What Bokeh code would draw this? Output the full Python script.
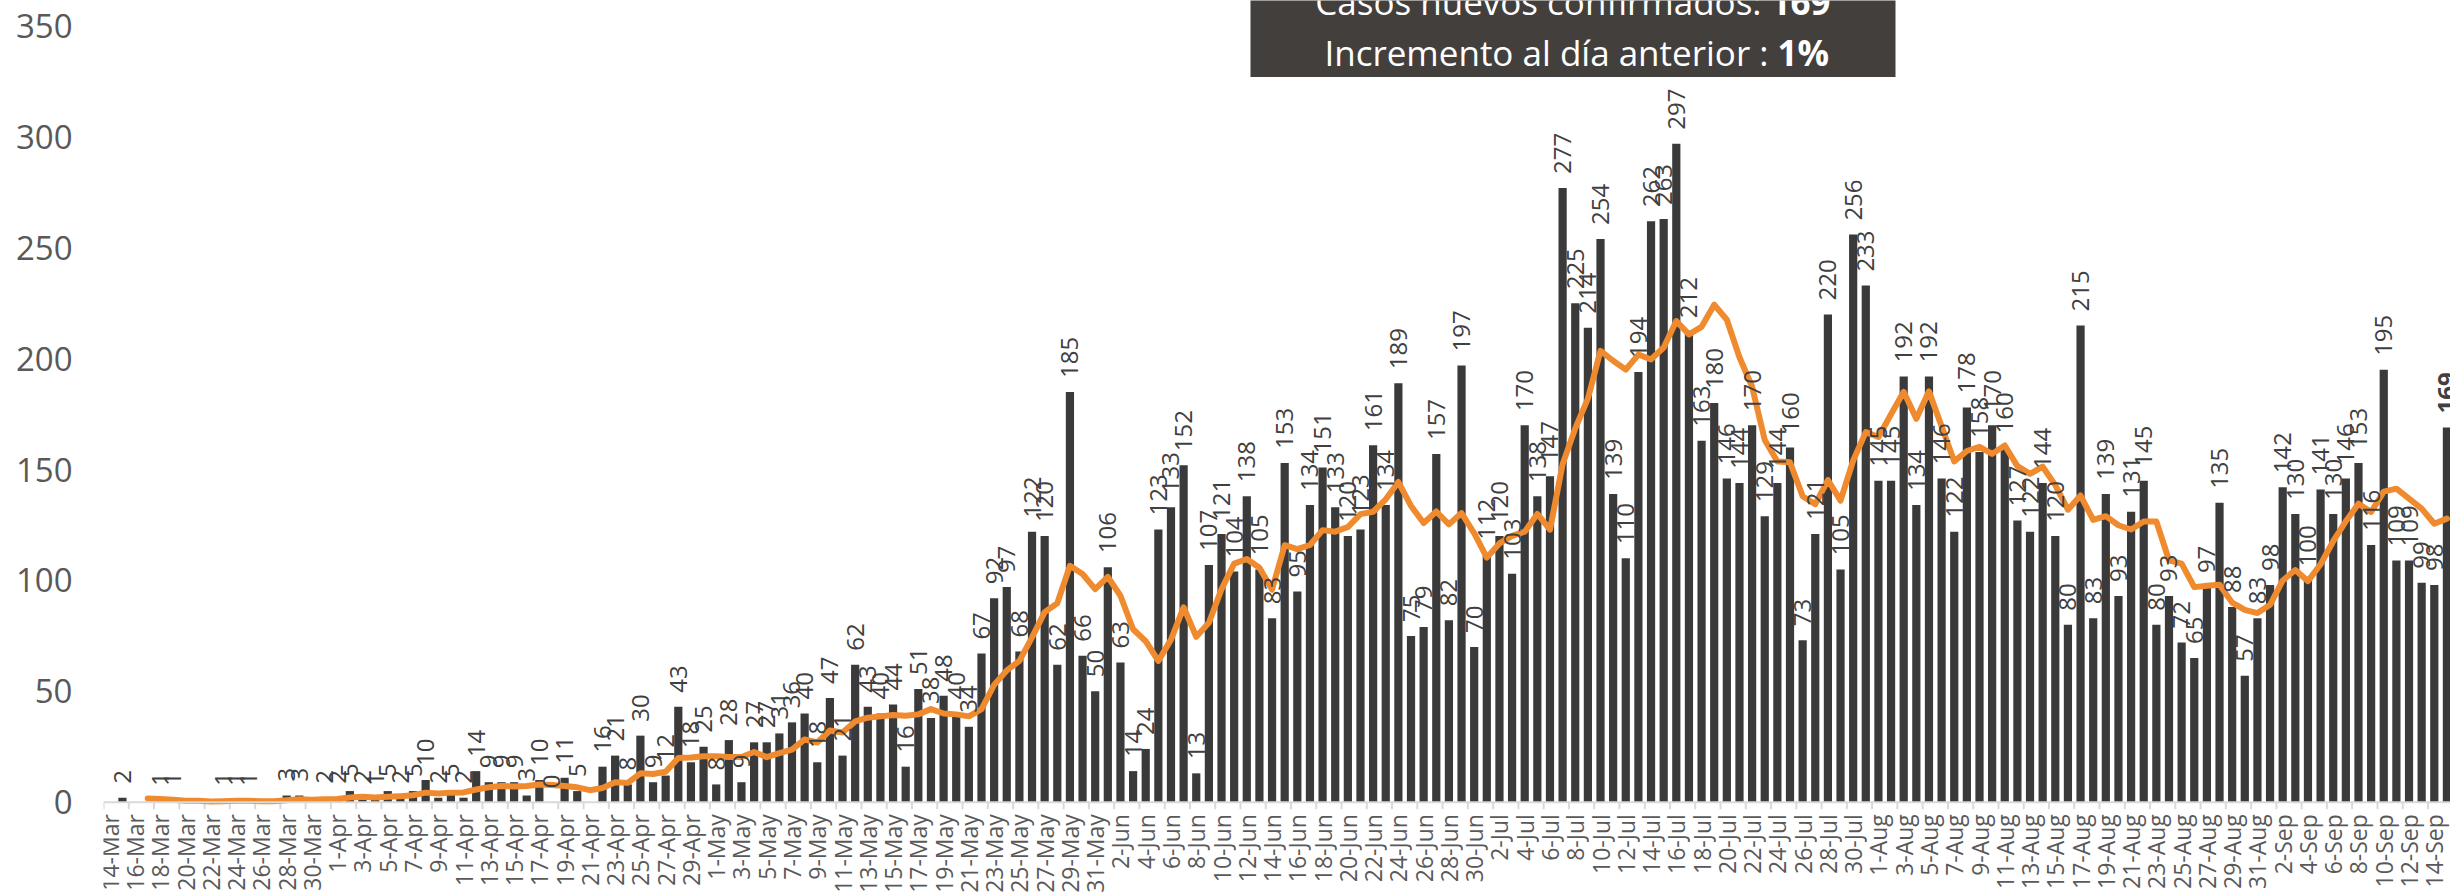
import math
import pandas as pd
from bokeh.plotting import figure
from bokeh.models import (ColumnDataSource, Range1d, LinearAxis, FixedTicker,
                          Label, BoxAnnotation, Span)
from bokeh.core.properties import value
from bokeh.embed import file_html
from bokeh.resources import INLINE

# ---------------- data ----------------
fecha_inicio = "2020-03-14"
n_dias = 186
meses = {3: "Mar", 4: "Apr", 5: "May", 6: "Jun", 7: "Jul", 8: "Aug", 9: "Sep"}
fechas = pd.date_range(fecha_inicio, periods=n_dias)
categorias = [f"{d.day}-{meses[d.month]}" for d in fechas]

# daily new confirmed cases (None = no data / no label)
casos_nuevos = [
    None, 2, None, None, 1, 1, None, None, None, 1, 1, 1, None, None,
    3, 3, None,
    2, 2, 5, 2, 1, 5, 2, 5, 10, 2, 5, 2,
    14, 9, 9, 9, 3, 10, 0, 11, 5,
    None,
    16, 21, 8, 30, 9, 12, 43, 18, 25,
    8, 28, 9, 27, 27, 31, 36, 40, 18, 47, 21, 62, 43, 40, 44, 16, 51, 38, 48, 40,
    34, 67, 92, 97, 68, 122, 120, 62, 185, 66, 50,
    106, 63, 14, 24, 123, 133, 152, 13,
    107, 121, 104, 138, 105, 83, 153, 95, 134, 151, 133, 120, 123, 161, 134, 189,
    75, 79, 157, 82, 197, 70,
    112, 120, 103, 170, 138, 147, 277, 225, 214, 254, 139, 110, 194, 262, 263, 297,
    212, 163, 180, 146, 144, 170, 129, 144, 160, 73, 121, 220, 105, 256, 233,
    145, 145, 192, 134, 192, 146, 122, 178, 158, 170, 160, 127, 122, 144, 120, 80,
    215, 83, 139, 93, 131, 145, 80, 93, 72, 65, 97, 135, 88, 57, 83,
    98, 142, 130, 100, 141, 130, 146, 153, 116, 195, 109, 109, 99, 98, 169,
]

# 7-day moving average line (orange)
promedio_7d = [
    None, None, None, 1.7, 1.4, 1.1, 0.6, 0.6, 0.3, 0.4, 0.6, 0.6, 0.4, 0.4,
    0.9, 1.3, 1.1, 1.3, 1.4, 2.1, 2.4, 2.1, 2.4, 2.7, 3.1, 4.3, 3.9, 4.3, 4.4,
    5.7, 6.7, 7.3, 7.1, 7.3, 8.0, 7.7, 7.3, 6.7, 5.4, 6.4, 9.0, 8.7, 13.0, 12.7,
    13.7, 19.9, 20.1, 20.7, 20.7, 20.4, 20.4, 22.6, 20.3, 22.1, 23.7, 28.3, 26.9,
    32.3, 31.4, 36.4, 38.1, 38.7, 39.3, 39.0, 39.6, 42.0, 40.0, 39.6, 38.7, 42.0,
    52.9, 59.4, 63.7, 74.3, 85.7, 89.7, 106.6, 102.9, 96.1, 101.6, 93.1, 78.0,
    72.6, 63.7, 73.3, 87.9, 74.6, 80.9, 96.1, 107.6, 109.7, 105.7, 95.9, 115.9,
    114.1, 116.0, 122.7, 122.0, 124.1, 129.9, 131.0, 136.6, 144.4, 133.6, 125.9,
    131.1, 125.3, 130.4, 121.3, 110.3, 116.7, 120.1, 122.0, 130.0, 122.9, 152.4,
    168.6, 182.0, 203.6, 199.1, 195.1, 201.9, 199.7, 205.1, 217.0, 211.0, 214.4,
    224.4, 217.6, 200.7, 187.4, 163.4, 153.7, 153.3, 138.0, 134.4, 145.3, 136.0,
    154.1, 166.9, 164.7, 175.0, 185.1, 172.9, 185.3, 169.6, 153.7, 158.4, 160.3,
    157.1, 160.9, 151.6, 148.1, 151.3, 143.0, 131.9, 138.3, 127.3, 129.0, 124.9,
    123.0, 126.6, 126.6, 109.1, 107.6, 97.0, 97.6, 98.1, 90.0, 86.7, 85.3, 89.0,
    100.0, 104.7, 99.7, 107.3, 117.7, 126.7, 134.6, 130.9, 140.1, 141.4, 136.9,
    132.4, 125.6, 127.9,
]

y_ticks = [0, 50, 100, 150, 200, 250, 300, 350]
ultimo_valor = "169"
incremento = "1%"

assert len(casos_nuevos) == n_dias, len(casos_nuevos)
assert len(promedio_7d) == n_dias, len(promedio_7d)

# ---------------- figure ----------------
BAR = "#3a3a3a"
ORANGE = "#ef8a2f"
GRAY = "#595959"
AXIS = "#d9d9d9"
FONT = "Open Sans"

W, H = 2450, 893
LEFT = 103
Y_MAX, Y_MIN = 361.6, -41.2          # frame covers the whole canvas height
S = H / (Y_MAX - Y_MIN)              # px per unit
CAT_W = 12.633                       # px per category
X_END = -0.5 + (W - LEFT) / CAT_W

x_idx = list(range(n_dias))
tops = [float("nan") if v is None else v for v in casos_nuevos]
labels = ["" if v is None else str(v) for v in casos_nuevos]
styles = ["normal"] * n_dias
styles[-1] = "bold"
ma = [float("nan") if v is None else v for v in promedio_7d]

src = ColumnDataSource(dict(x=x_idx, top=tops, label=labels, style=styles, ma=ma))

p = figure(width=W, height=H,
           x_range=Range1d(-0.5, X_END), y_range=Range1d(Y_MIN, Y_MAX),
           output_backend="svg", toolbar_location=None,
           x_axis_type=None, y_axis_type=None,
           min_border_left=LEFT, min_border_right=0,
           min_border_top=0, min_border_bottom=0)
p.outline_line_color = None
p.background_fill_color = "white"
p.border_fill_color = "white"

# y axis (labels only)
yaxis = LinearAxis(ticker=FixedTicker(ticks=y_ticks),
                   axis_line_color=None, major_tick_line_color=None,
                   minor_tick_line_color=None, major_tick_out=0, major_tick_in=0,
                   major_label_text_font=FONT, major_label_text_font_size="33px",
                   major_label_text_color=GRAY, major_label_standoff=31)
p.add_layout(yaxis, "left")

# category axis baseline and ticks (every two categories, at boundaries)
p.add_layout(Span(location=0, dimension="width", line_color=AXIS, line_width=2))
boundaries = [i - 0.5 for i in range(0, n_dias + 1, 2)]
tick_src = ColumnDataSource(dict(x=boundaries, y0=[0] * len(boundaries),
                                 y1=[-7 / S] * len(boundaries)))
p.segment(x0="x", y0="y0", x1="x", y1="y1", source=tick_src,
          line_color=AXIS, line_width=2)

# bars
p.vbar(x="x", top="top", width=0.65, source=src, fill_color=BAR, line_color=None)

# moving average
p.line(x="x", y="ma", source=src, line_color=ORANGE, line_width=6,
       line_join="round", line_cap="round")

# data labels
p.text(x="x", y="top", text="label", source=src, angle=math.pi / 2,
       text_align="left", text_baseline="middle", y_offset=-14,
       text_font=value(FONT), text_font_size=value("24px"),
       text_color="#404040", text_font_style="style")

# category labels (every second day), rotated
cat_src = ColumnDataSource(dict(x=x_idx[::2], y=[0] * len(x_idx[::2]),
                                text=categorias[::2]))
p.text(x="x", y="y", text="text", source=cat_src, angle=math.pi / 2,
       text_align="right", text_baseline="middle", y_offset=12,
       text_font=value(FONT), text_font_size=value("23px"), text_color=GRAY)

# info box
def xi(px):
    return (px - LEFT) / CAT_W - 0.5

def yv(py):
    return Y_MAX - py / S

p.add_layout(BoxAnnotation(left=xi(1250), right=xi(1895), bottom=yv(76.6), top=Y_MAX + 50,
                           fill_color="#433f3d", fill_alpha=1.0, line_color=None))

def txt(px, py, text, align, bold=False):
    p.add_layout(Label(x=xi(px), y=yv(py), text=text, text_align=align,
                       text_baseline="middle", text_font=FONT,
                       text_font_size="35px", text_color="white",
                       text_font_style="bold" if bold else "normal"))

txt(1761, 1, "Casos nuevos confirmados:", "right")
txt(1770, 1, ultimo_valor, "left", bold=True)
txt(1768, 51.6, "Incremento al día anterior :", "right")
txt(1777, 51.6, incremento, "left", bold=True)

open("out.html", "w").write(file_html(p, INLINE))
